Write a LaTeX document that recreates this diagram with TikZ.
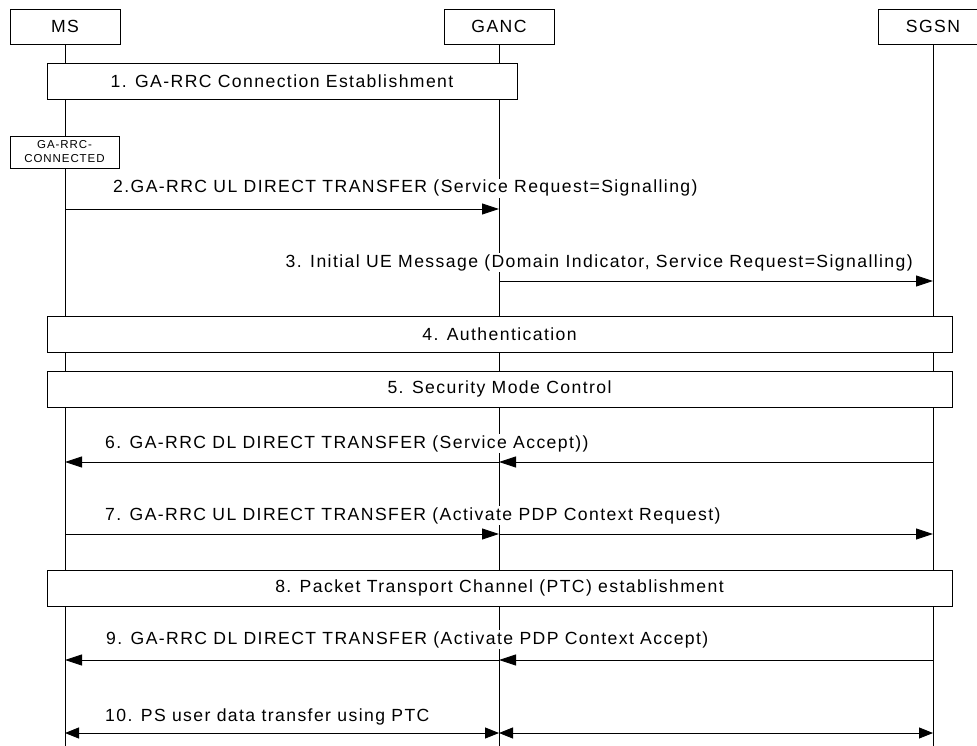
\documentclass[tikz,border=0pt]{standalone}
\usepackage{fontspec}
\setmainfont{Liberation Sans}[LetterSpace=8]
\usetikzlibrary{positioning,arrows.meta}

\begin{document}
\begin{tikzpicture}[x=1pt,y=-1pt,
  font=\fontsize{17.6}{20}\selectfont,
  entity/.style={draw,line width=0.9pt,fill=white,minimum width=110pt,minimum height=35pt,inner sep=0pt},
  phase/.style={draw,line width=0.9pt,fill=white,minimum height=36pt,inner sep=0pt},
  gastate/.style={draw,line width=0.9pt,fill=white,align=center,minimum width=109pt,minimum height=32pt,inner sep=0pt,font=\fontsize{11.5}{14}\selectfont},
  lifeline/.style={line width=0.9pt},
  msg/.style={line width=0.9pt,-{Triangle[length=17pt,width=11pt]}},
  bimsg/.style={line width=0.9pt,{Triangle[length=14pt,width=11pt]}-{Triangle[length=14pt,width=11pt]}},
  msglabel/.style={fill=white,inner sep=1pt,anchor=base west}]

\useasboundingbox (0,0) rectangle (977,746);
\clip (0,0) rectangle (977,746);

% ---- entities and lifelines ----
\node[entity] (ms) at (65,26.5) {MS};
\node[entity] (ganc) at (499,26.5) {GANC};
\node[entity] (sgsn) at (933,26.5) {SGSN};
\coordinate (bottom) at (0,746);
\draw[lifeline] (ms) -- (ms |- bottom);
\draw[lifeline] (ganc) -- (ganc |- bottom);
\draw[lifeline] (sgsn) -- (sgsn |- bottom);

% ---- procedure boxes ----
\node[phase,minimum width=470pt] (estab) at (282,81) {1. GA-RRC Connection Establishment};
\node[gastate] (connected) at (64.5,152) {GA-RRC-\\CONNECTED};
\node[phase,minimum width=905pt] (auth) at (499.5,334) {4. Authentication};
\node[phase,minimum width=905pt] (secmode) at (499.5,389) {5. Security Mode Control};
\node[phase,minimum width=905pt] (ptc) at (499.5,588) {8. Packet Transport Channel (PTC) establishment};

% ---- message rows ----
\coordinate (r2) at (0,209);
\coordinate (r3) at (0,281);
\coordinate (r6) at (0,462);
\coordinate (r7) at (0,534);
\coordinate (r9) at (0,660);
\coordinate (r10) at (0,733);

\draw[msg] (ms |- r2) -- (ganc |- r2);
\node[msglabel] (l2) at (112,193) {2.GA-RRC UL DIRECT TRANSFER (Service Request=Signalling)};

\draw[msg] (ganc |- r3) -- (sgsn |- r3);
\node[msglabel,anchor=base east] (l3) at (914,267) {3. Initial UE Message (Domain Indicator, Service Request=Signalling)};

\draw[msg] (sgsn |- r6) -- (ganc |- r6);
\draw[msg] (ganc |- r6) -- (ms |- r6);
\node[msglabel] (l6) at (104,448) {6. GA-RRC DL DIRECT TRANSFER (Service Accept))};

\draw[msg] (ms |- r7) -- (ganc |- r7);
\draw[msg] (ganc |- r7) -- (sgsn |- r7);
\node[msglabel] (l7) at (104,520) {7. GA-RRC UL DIRECT TRANSFER (Activate PDP Context Request)};

\draw[msg] (sgsn |- r9) -- (ganc |- r9);
\draw[msg] (ganc |- r9) -- (ms |- r9);
\node[msglabel] (l9) at (105,644) {9. GA-RRC DL DIRECT TRANSFER (Activate PDP Context Accept)};

\draw[bimsg] (ms |- r10) -- (ganc |- r10);
\draw[bimsg] (ganc |- r10) -- (sgsn |- r10);
\node[msglabel] (l10) at (104,721) {10. PS user data transfer using PTC};
\end{tikzpicture}
\end{document}
